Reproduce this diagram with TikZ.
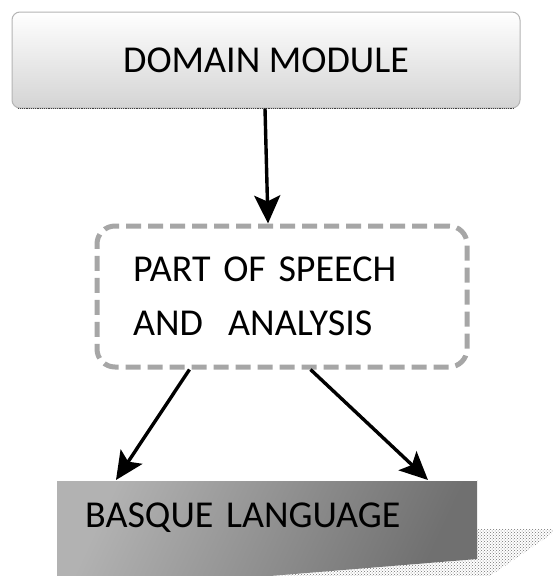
\documentclass[tikz,border=0pt]{standalone}
\usepackage{fontspec}
\setmainfont{Carlito}
\usetikzlibrary{arrows.meta,patterns}
\definecolor{dashgray}{HTML}{A6A6A6}
\definecolor{rimgray}{HTML}{B4B4B4}
\tikzset{
  labeltext/.style={font=\fontsize{38}{54}\selectfont, text=black},
  topbox/.style={labeltext, rounded corners=8pt, draw=rimgray, line width=1pt,
    top color=white, bottom color=black!17, minimum width=508pt, minimum height=96pt},
  dashbox/.style={labeltext, rounded corners=18pt, draw=dashgray, line width=5pt,
    dash pattern=on 15pt off 7pt, fill=white, minimum width=370pt, minimum height=141pt,
    text width=298pt, align=left, inner xsep=36pt},
  basebox/.style={labeltext, minimum width=420pt, minimum height=96pt, anchor=north west,
    text width=392pt, align=left, inner xsep=28pt},
  flow/.style={line width=3.4pt, -{Stealth[length=28pt,width=26pt,inset=6pt]}}
}
\begin{document}
\begin{tikzpicture}[x=1pt,y=-1pt]
\useasboundingbox (0,0) rectangle (553,576);
\fill[white] (0,0) rectangle (553,576);

% top module
\node[topbox] (dm) at (266,60) {DOMAIN MODULE};
\draw[black!75, line width=1.2pt, densely dotted] ([xshift=6pt]dm.south west) -- ([xshift=-6pt]dm.south east);

% analysis stage
\node[dashbox] (pos) at (282,296.5) {PART OF SPEECH\\AND~~ANALYSIS};

% cast shadow of the language block
\fill[pattern=crosshatch dots, pattern color=black!55]
  (270,576) -- (477,559) -- (477,529) -- (553,529) -- (553,533) -- (490,576) -- cycle;
% language block, shaded
\shade[left color=black!30, right color=black!56, shading angle=65]
  (57,480) -- (477,480) -- (477,559) -- (270,576) -- (57,576) -- cycle;
\draw[white, line width=0.6pt] (57,480) -- (477,480);
\node[basebox] (bl) at (57,480) {\raisebox{27pt}{BASQUE LANGUAGE}};

% connectors
\draw[flow] ([xshift=-1pt]dm.south) -- ([xshift=-14pt]pos.north);
\draw[flow] ([xshift=95pt]pos.south west) -- ([xshift=59pt]bl.north west);
\draw[flow] ([xshift=216pt]pos.south west) -- ([xshift=371pt]bl.north west);
\end{tikzpicture}
\end{document}
